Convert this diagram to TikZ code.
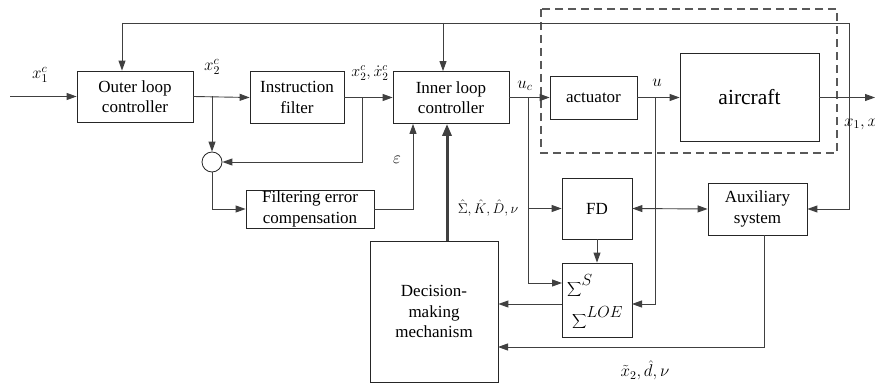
\RequirePackage{fix-cm}
\documentclass[tikz,border=0pt]{standalone}
\usepackage{fontspec}
\setmainfont{Liberation Serif}
\newfontfamily\tnr{Liberation Serif}
\usetikzlibrary{arrows.meta}
\begin{document}
\begin{tikzpicture}[x=1pt,y=-1pt,
  blk/.style={draw=black!85, line width=0.8pt, align=center, inner sep=1pt,
    font=\tnr\fontsize{17}{20.5}\selectfont},
  ln/.style={draw=black!75, line width=0.9pt},
  arr/.style={ln, -{Triangle[length=10pt,width=7pt]}},
  lbl/.style={font=\fontsize{17}{19}\selectfont, inner sep=0pt}]
\useasboundingbox (0,0) rectangle (875,385);
% blocks
\node[blk, minimum width=116pt, minimum height=51pt] (outer) at (135,96.5) {Outer loop\\controller};
\node[blk, minimum width=94pt, minimum height=52pt] (instr) at (297,97.5) {Instruction\\filter};
\node[blk, minimum width=116pt, minimum height=52pt] (inner) at (451,97.5) {Inner loop\\controller};
\node[blk, minimum width=87pt, minimum height=43pt] (act) at (593.5,97.5) {actuator};
\node[blk, minimum width=139pt, minimum height=88pt, font=\tnr\fontsize{21.5}{25}\selectfont] (air) at (749.5,97.5) {aircraft};
\node[draw=black!85, line width=0.8pt, circle, minimum size=20pt, inner sep=0pt] (circ) at (212,162) {};
\node[blk, minimum width=128pt, minimum height=36pt] (filt) at (310,209) {Filtering error\\compensation};
\node[blk, minimum width=70pt, minimum height=61pt] (fd) at (597,208.5) {FD};
\node[blk, minimum width=70pt, minimum height=74pt] (sig) at (597,300) {};
\node[inner sep=0pt, anchor=west, font=\fontsize{23}{26}\selectfont] (sigA) at (567,286) {$\displaystyle\sum\nolimits^{S}$};
\node[inner sep=0pt, anchor=west, font=\fontsize{23}{26}\selectfont] (sigB) at (572,318) {$\displaystyle\sum\nolimits^{LOE}$};
\node[blk, minimum width=99pt, minimum height=52pt] (aux) at (757.5,209) {Auxiliary\\system};
\node[blk, minimum width=128pt, minimum height=141pt] (dec) at (434,311.5) {Decision-\\making\\mechanism};
% dashed frame
\draw[draw=black!65, line width=1.1pt, dash pattern=on 8pt off 5pt] (541,9) rectangle (837,153);
% coordinates
\coordinate (in) at (10,96.5);
\coordinate (tr) at (849,23);
\coordinate (t1) at (122,23);
\coordinate (t2) at (443,23);
\coordinate (b1) at (212,96.5);
\coordinate (b2) at (362,97.5);
\coordinate (uc) at (528,97.5);
\coordinate (ub) at (655,97.5);
\coordinate (s1) at (562,283);
\coordinate (s2) at (632,304);
\coordinate (s3) at (562,304);
\coordinate (ax) at (764,235);
\coordinate (dx) at (498,347);
\coordinate (ex) at (413,227);
\coordinate (th) at (447,241);
\coordinate (out) at (875,97.5);
% connectors
\draw[arr] (in) -- (outer.west);
\draw[ln] (tr) -- (t1);
\draw[arr] (t1) -- (t1 |- outer.north);
\draw[arr] (t2) -- (t2 |- inner.north);
\draw[arr] (tr) |- (aux.east);
\draw[arr] (air.east) -- (out);
\draw[arr] (outer.east) -- (instr.west);
\draw[arr] (b1) -- (circ.north);
\draw[arr] (instr.east) -- (inner.west);
\draw[arr] (b2) |- (circ.east);
\draw[arr] (circ.south) |- (filt.west);
\draw[arr] (filt.east) -| (ex |- inner.south);
\draw[ln, line width=3pt, -{Triangle[length=12pt,width=9pt]}] (th) -- (th |- inner.south);
\draw[arr] (inner.east) -- (act.west);
\draw[arr] (uc) |- (fd.west);
\draw[arr] (uc) |- (s1);
\draw[arr] (act.east) -- (air.west);
\draw[arr] (ub) |- (s2);
\draw[ln, {Triangle[length=10pt,width=7pt]}-{Triangle[length=10pt,width=7pt]}] (fd.east) -- (aux.west);
\draw[arr] (fd.south) -- (sig.north);
\draw[arr] (s3) -- (s3 -| dec.east);
\draw[arr] (ax) |- (dx);
% labels
\node[lbl] (l1) at (40,75) {$x_1^c$};
\node[lbl] (l2) at (212,67) {$x_2^c$};
\node[lbl, font=\fontsize{16}{19}\selectfont] (l3) at (370,73) {$x_2^c, \dot{x}_2^c$};
\node[lbl] (l4) at (525,86) {$u_c$};
\node[lbl] (l5) at (657,83) {$u$};
\node[lbl, anchor=west] (l6) at (844,124) {$x_1, x_2$};
\node[lbl] (l7) at (397,160) {$\varepsilon$};
\node[lbl, font=\fontsize{14}{17}\selectfont] (l8) at (488,208) {$\hat{\Sigma}, \hat{K}, \hat{D}, \nu$};
\node[lbl] (l9) at (645,370) {$\tilde{x}_2, \hat{d}, \nu$};
\end{tikzpicture}
\end{document}
